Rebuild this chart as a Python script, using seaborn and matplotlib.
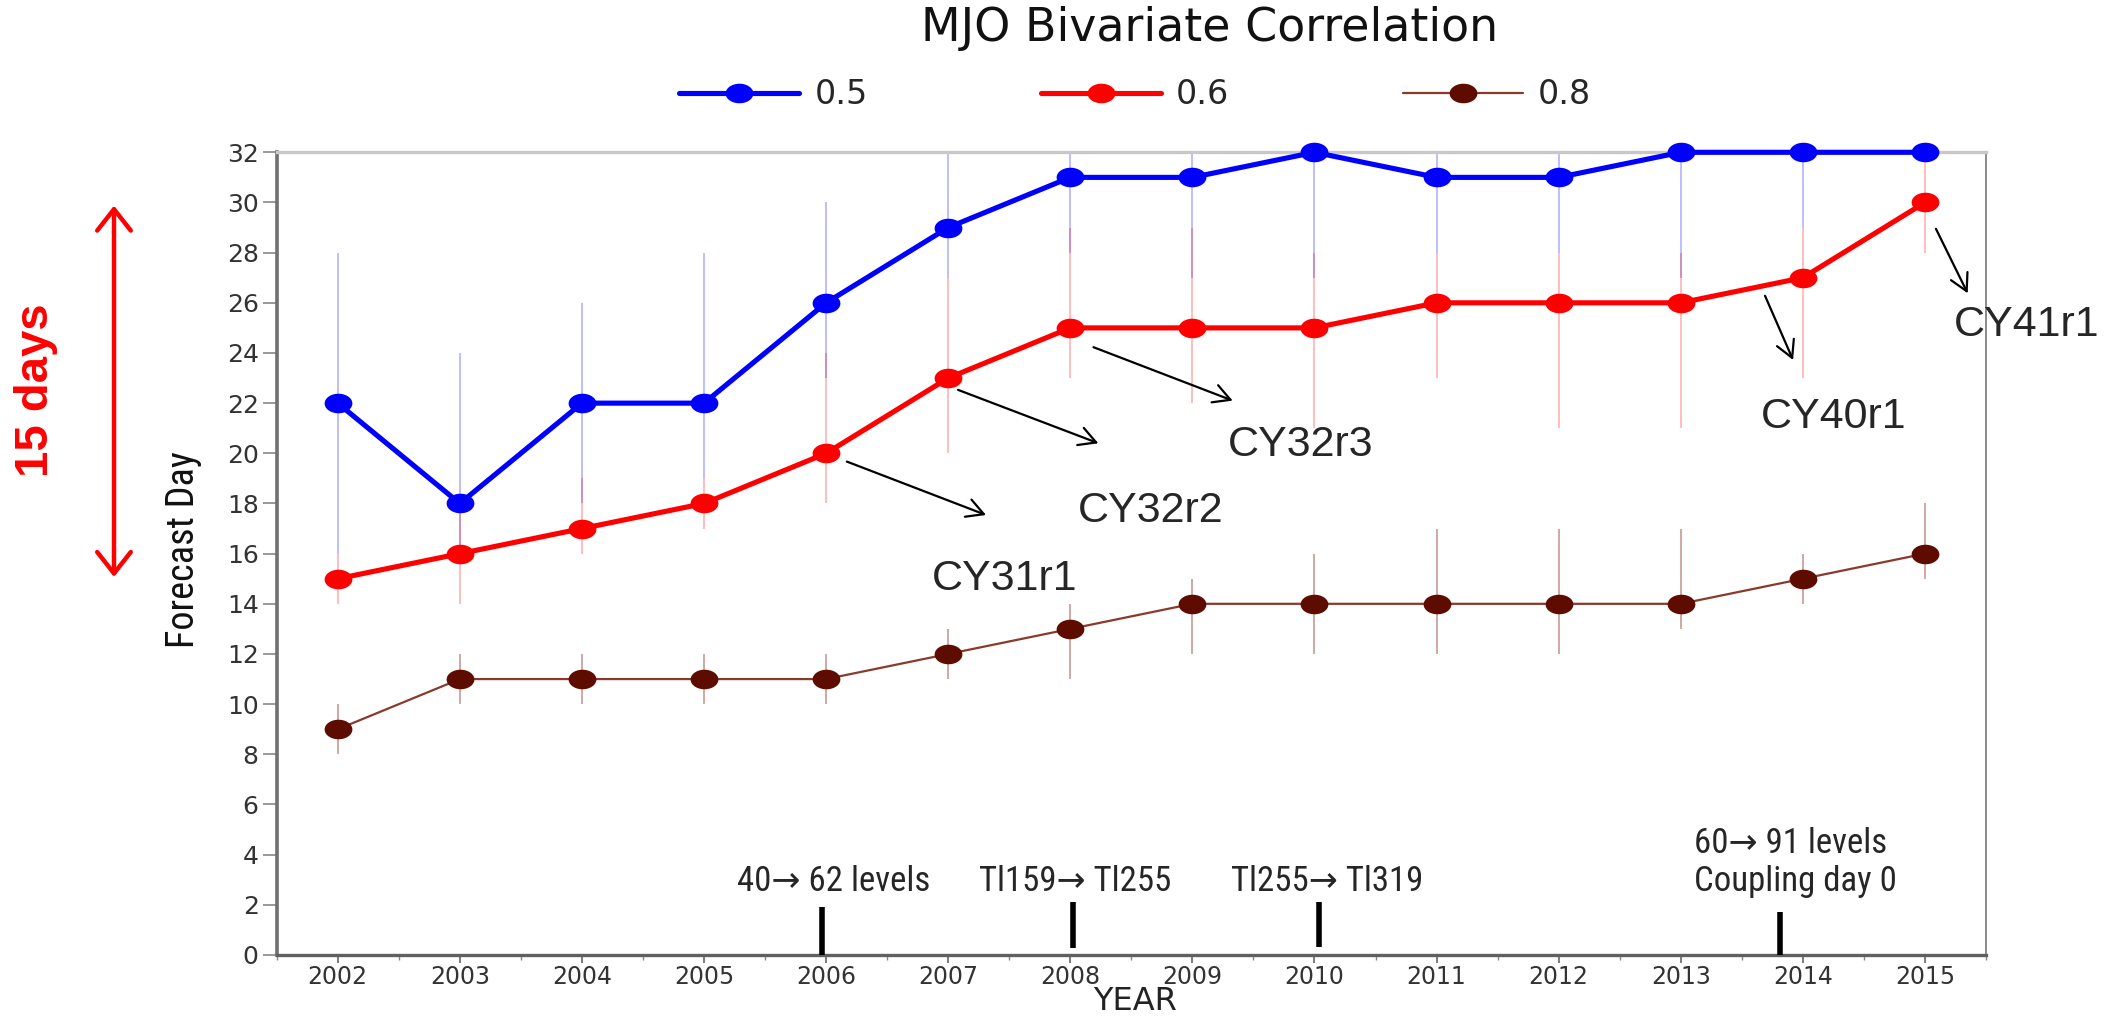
import numpy as np
import pandas as pd
import matplotlib
matplotlib.use("Agg")
import matplotlib.pyplot as plt
import matplotlib.path as mpath
import seaborn as sns

# ---------------- data ----------------
years = [2002, 2003, 2004, 2005, 2006, 2007, 2008, 2009, 2010, 2011, 2012, 2013, 2014, 2015]
corr_05 = [22, 18, 22, 22, 26, 29, 31, 31, 32, 31, 31, 32, 32, 32]
corr_06 = [15, 16, 17, 18, 20, 23, 25, 25, 25, 26, 26, 26, 27, 30]
corr_08 = [9, 11, 11, 11, 11, 12, 13, 14, 14, 14, 14, 14, 15, 16]

lo_05 = [16, 16, 18, 19, 23, 27, 28, 27, 27, 28, 28, 27, 29, 32]
hi_05 = [28, 24, 26, 28, 30, 32, 32, 32, 32, 32, 32, 32, 32, 32]
lo_06 = [14, 14, 16, 17, 18, 20, 23, 22, 21, 23, 21, 21, 23, 28]
hi_06 = [16, 18, 19, 19, 24, 27, 29, 29, 28, 28, 28, 28, 29, 32]
lo_08 = [8, 10, 10, 10, 10, 11, 11, 12, 12, 12, 12, 13, 14, 15]
hi_08 = [10, 12, 12, 12, 12, 13, 14, 15, 16, 17, 17, 17, 16, 18]

series_labels = ["0.5", "0.6", "0.8"]
y_ticks = list(range(0, 33, 2))

cycle_labels = ["CY31r1", "CY32r2", "CY32r3", "CY40r1", "CY41r1"]
event_years = [2005.97, 2008.02, 2010.04, 2013.81]
event_bottom = [0.0, 0.28, 0.30, 0.0]
event_top = [1.93, 2.13, 2.13, 1.73]
event_labels = ["40\u2192 62 levels", "Tl159\u2192 Tl255", "Tl255\u2192 Tl319",
                "60\u2192 91 levels\nCoupling day 0"]

# ---------------- style ----------------
sns.set_style("white")
plt.rcParams["font.family"] = ["DejaVu Sans"]
NARROW = ["Liberation Sans Narrow", "Roboto Condensed", "Roboto", "DejaVu Sans"]
ARIAL = ["Liberation Sans", "DejaVu Sans"]

W, H = 2105, 1018
fig = plt.figure(figsize=(W / 100, H / 100), dpi=100)
ax = fig.add_axes([276.7 / W, 63 / H, (1986 - 276.7) / W, (955 - 152.3) / H])

# elliptical marker (reference is horizontally stretched)
t = np.linspace(0, 2 * np.pi, 65)
ell = mpath.Path(np.column_stack([np.cos(t), np.sin(t) / 1.42]), closed=True)

df = pd.DataFrame({
    "year": years * 3,
    "day": corr_05 + corr_06 + corr_08,
    "lo": lo_05 + lo_06 + lo_08,
    "hi": hi_05 + hi_06 + hi_08,
    "corr": [series_labels[0]] * 14 + [series_labels[1]] * 14 + [series_labels[2]] * 14,
})

line_col = {"0.5": "#0000ff", "0.6": "#ff0000", "0.8": "#8a3a2c"}
mark_col = {"0.5": "#0000ff", "0.6": "#ff0000", "0.8": "#5e0c00"}
bar_col = {"0.5": (0.0, 0.0, 1.0, 0.28), "0.6": (1.0, 0.0, 0.0, 0.28), "0.8": (0.55, 0.2, 0.15, 0.45)}
lw = {"0.5": 3.7, "0.6": 3.7, "0.8": 1.6}

# error bars (thin vertical lines)
for lab in series_labels:
    sub = df[df["corr"] == lab]
    ax.vlines(sub["year"], sub["lo"], sub["hi"], colors=[bar_col[lab]], linewidth=1.3, zorder=1)

for lab in ["0.8", "0.6", "0.5"]:
    sub = df[df["corr"] == lab]
    sns.lineplot(data=sub, x="year", y="day", ax=ax, color=line_col[lab], linewidth=lw[lab],
                 marker=ell, markersize=20, markerfacecolor=mark_col[lab],
                 markeredgecolor=mark_col[lab], markeredgewidth=0, label=lab,
                 clip_on=False, zorder=3, legend=False)
for ln in ax.lines:
    ln.set_clip_on(False)

# axes limits / ticks
ax.set_xlim(2001.5, 2015.5)
ax.set_ylim(0, 32)
ax.set_xticks(years)
ax.set_xticks(np.arange(2001.5, 2016, 1.0), minor=True)
ax.set_xticklabels([str(y) for y in years])
ax.set_yticks(y_ticks)
ax.set_yticklabels([str(v) for v in y_ticks])
ax.tick_params(axis="x", which="major", direction="out", length=6, width=1.2, color="#666666",
               labelsize=17, labelcolor="#333333", pad=1, bottom=True)
ax.tick_params(axis="x", which="minor", direction="out", length=3.5, width=1.0, color="#888888", bottom=True)
ax.tick_params(axis="y", which="major", direction="out", length=10, width=1.2, color="#888888",
               labelsize=18, labelcolor="#333333", pad=3, left=True)
ax.set_xlabel("")
ax.set_ylabel("")

for side, col, w in [("left", "#707070", 2.6), ("bottom", "#606060", 2.4),
                     ("right", "#8a8a8a", 1.4), ("top", "#c8c8c8", 2.4)]:
    ax.spines[side].set_visible(True)
    ax.spines[side].set_color(col)
    ax.spines[side].set_linewidth(w)

# event bars at the bottom
ax.vlines(event_years, event_bottom, event_top, colors="black", linewidth=4, zorder=4, clip_on=False)
ev_fs = 25
ax.text(2005.27, 2.92, event_labels[0], ha="left", va="center", fontsize=ev_fs, family=NARROW)
ax.text(2007.25, 2.92, event_labels[1], ha="left", va="center", fontsize=ev_fs, family=NARROW)
ax.text(2009.32, 2.92, event_labels[2], ha="left", va="center", fontsize=ev_fs, family=NARROW)
l1, l2 = event_labels[3].split("\n")
ax.text(2013.11, 4.43, l1, ha="left", va="center", fontsize=ev_fs, family=NARROW)
ax.text(2013.11, 2.92, l2, ha="left", va="center", fontsize=ev_fs, family=NARROW)

# cycle annotations with arrows
arrow_kw = dict(arrowstyle="->,head_length=0.55,head_width=0.3", lw=1.6, color="black",
                mutation_scale=22, shrinkA=0, shrinkB=0)
arrows = [((2006.17, 19.67), (2007.31, 17.54)),
          ((2007.08, 22.53), (2008.23, 20.40)),
          ((2008.19, 24.23), (2009.33, 22.10)),
          ((2013.69, 26.28), (2013.92, 23.72)),
          ((2015.09, 28.95), (2015.35, 26.38))]
for (s, e) in arrows:
    ax.annotate("", xy=e, xytext=s, arrowprops=arrow_kw, annotation_clip=False)
label_pos = [(2007.46, 14.99), (2008.66, 17.70), (2009.89, 20.33), (2014.25, 21.46), (2015.83, 25.1)]
for lab, (x, y) in zip(cycle_labels, label_pos):
    ax.text(x, y, lab, ha="center", va="center", fontsize=31, family=ARIAL, clip_on=False)

# legend
handles, labels = ax.get_legend_handles_labels()
order = [labels.index(s) for s in series_labels]
fig.legend([handles[i] for i in order], [labels[i] for i in order],
           loc="center", bbox_to_anchor=(1135 / W, 1 - 95 / H), ncol=3, frameon=False,
           fontsize=24, handlelength=3.6, handletextpad=0.45, columnspacing=5.2,
           borderpad=0, markerscale=1.0)

# titles / axis labels
fig.text(1210 / W, 1 - 28.5 / H, "MJO Bivariate Correlation", ha="center", va="center",
         fontsize=33, color="#111111")
fig.text(1135 / W, 1 - 1010 / H, "YEAR", ha="center", va="baseline", fontsize=23, color="#222222")
fig.text(183.5 / W, 1 - 550 / H, "Forecast Day", ha="center", va="center", rotation=90,
         fontsize=27.5, family=NARROW, color="#111111")

# red "15 days" marker
fig.text(36 / W, 1 - 390 / H, "15 days", ha="center", va="center", rotation=90,
         fontsize=34, fontweight="bold", color="#ff0000", family=ARIAL)
fig.patches.append(matplotlib.patches.FancyArrowPatch(
    (114 / W, 1 - 577 / H), (114 / W, 1 - 205.6 / H), transform=fig.transFigure,
    arrowstyle="<->,head_length=0.7,head_width=0.55", mutation_scale=22, lw=3.2,
    color="#ff0000", shrinkA=0, shrinkB=0))

fig.savefig("out.png", dpi=100, facecolor="white")
